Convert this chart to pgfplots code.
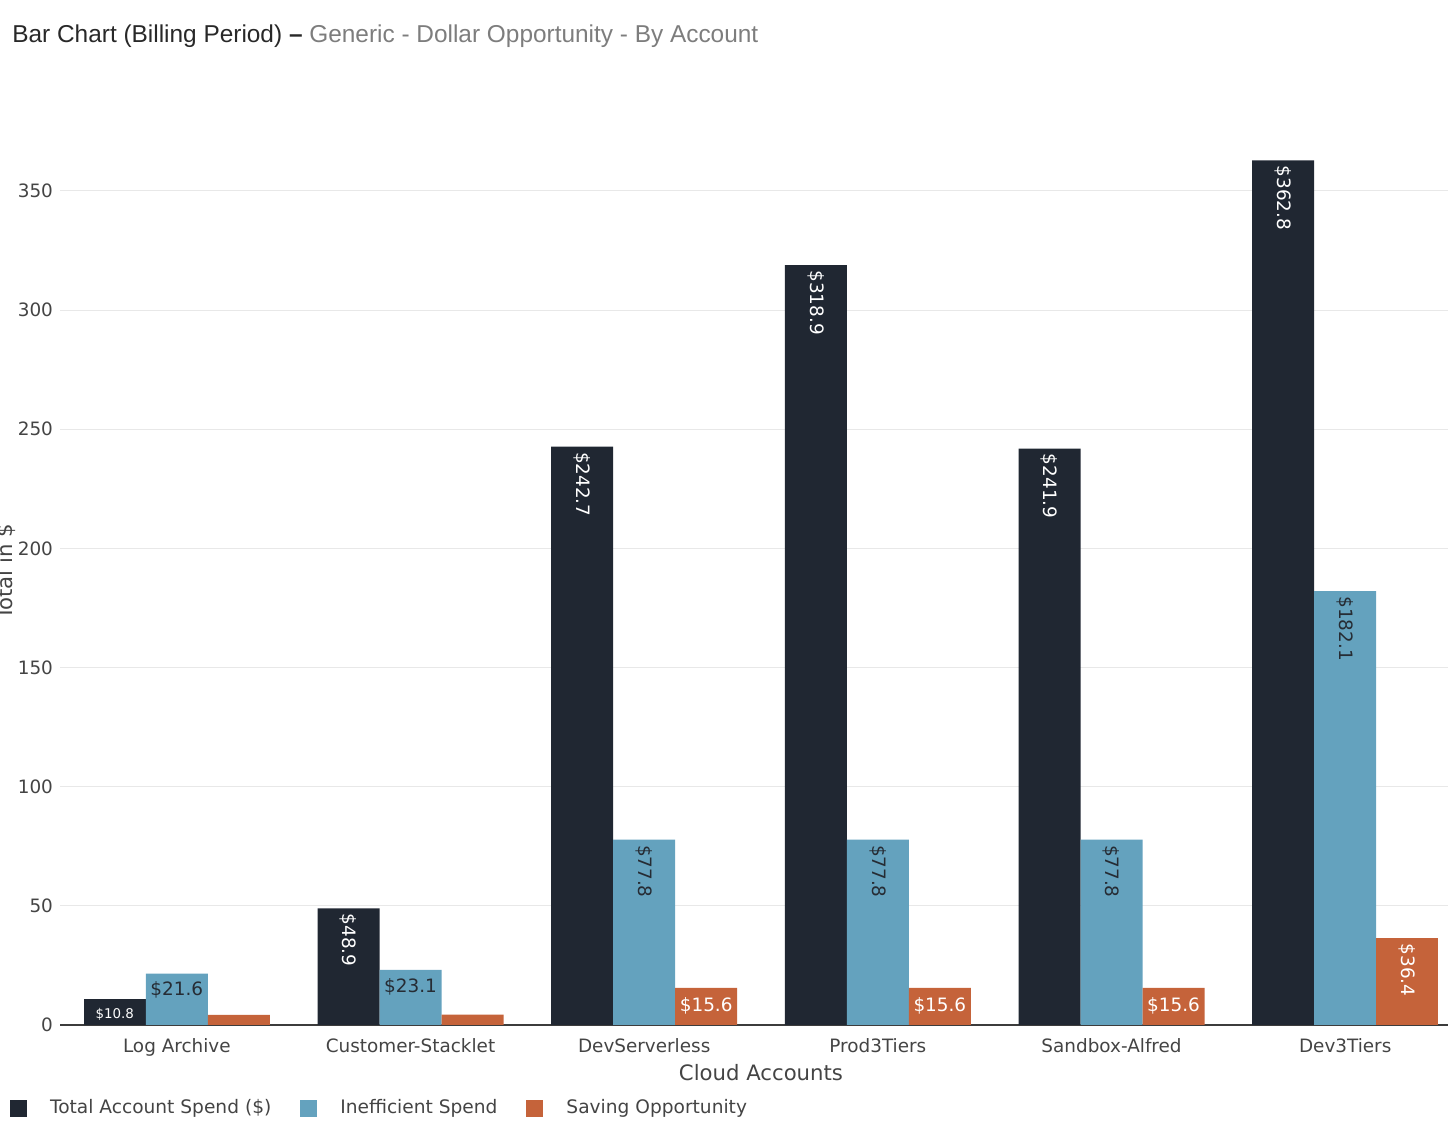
\documentclass[border=0pt]{standalone}
\usepackage{pgfplots}
\pgfplotsset{compat=1.18}
\usepackage{fontspec}
\setmainfont{DejaVu Sans}
\newfontfamily\titlefont{Liberation Sans}

\definecolor{bardark}{RGB}{32,39,50}
\definecolor{barblue}{RGB}{100,162,190}
\definecolor{barorange}{RGB}{197,99,58}
\definecolor{labelgray}{RGB}{68,68,68}
\definecolor{labeldark}{RGB}{38,44,52}
\definecolor{gridgray}{RGB}{232,232,232}
\definecolor{axisgray}{RGB}{60,60,60}
\definecolor{titledark}{RGB}{40,40,40}
\definecolor{titlegray}{RGB}{125,125,125}

\newcommand{\ticksize}{\fontsize{9.2}{11}\selectfont}

% bar value labels
\pgfplotsset{
  vallabel/.style={nodes near coords={\$\pgfmathprintnumber[fixed,precision=1,fixed zerofill]{\pgfplotspointmeta}}},
  lblrot/.style={vallabel, every node near coord/.append style={rotate=-90, anchor=west, inner sep=2.5pt, font=\ticksize, text=#1}},
  lblhor/.style 2 args={vallabel, every node near coord/.append style={anchor=north, inner sep=#2, font=\ticksize, text=#1}},
  lblsmall/.style={vallabel, every node near coord/.append style={anchor=north, inner sep=4.5pt, font=\fontsize{6.7}{8}\selectfont, text=#1}},
}

\begin{document}
\begin{tikzpicture}
\path[use as bounding box] (0,0) rectangle (725pt,564pt);
\clip (0,0) rectangle (725pt,564pt);
\begin{axis}[
  at={(30pt,51.5pt)}, anchor=south west,
  scale only axis, width=694pt, height=442.5pt,
  xmin=-0.5, xmax=5.44, ymin=0, ymax=371.4,
  axis x line*=bottom, axis y line*=left,
  y axis line style={draw=none},
  x axis line style={draw=axisgray, line width=0.8pt, -},
  xtick={0,...,5},
  xticklabels={Log Archive,Customer-Stacklet,DevServerless,Prod3Tiers,Sandbox-Alfred,Dev3Tiers},
  ytick={0,50,...,350},
  major tick length=0pt,
  tick label style={font=\ticksize, text=labelgray},
  xticklabel style={yshift=-3pt},
  ymajorgrids, major grid style={draw=gridgray, line width=0.5pt},
  ybar, bar width=31pt,
  /pgf/number format/assume math mode=true,
  xlabel={Cloud Accounts},
  xlabel style={at={(axis description cs:0.505,-0.0542)}, anchor=center, font=\fontsize{10.6}{12}\selectfont, text=labelgray},
  legend columns=3,
  legend style={at={(axis description cs:-0.036,-0.0938)}, anchor=west, draw=none, fill=none,
    inner sep=0pt, outer sep=0pt, font=\fontsize{9.3}{11}\selectfont, text=labelgray,
    nodes={inner sep=0pt},
    /tikz/every odd column/.append style={column sep=11.5pt},
    /tikz/every even column/.append style={column sep=14.5pt}},
  legend image code/.code={
    \fill[#1, draw=none] (0pt,-4.25pt) rectangle (8.5pt,4.25pt);
  },
]
% Total Account Spend
\addplot[fill=bardark, draw=none, bar shift=-31pt, lblsmall=white]
  coordinates {(0,10.8)};
\addlegendentry{Total Account Spend (\$)}
\addplot[fill=bardark, draw=none, bar shift=-31pt, lblrot=white, forget plot]
  coordinates {(1,48.9) (2,242.7) (3,318.9) (4,241.9) (5,362.8)};
% Inefficient Spend
\addplot[fill=barblue, draw=none, bar shift=0pt, lblhor={labeldark}{4pt}]
  coordinates {(0,21.6) (1,23.1)};
\addlegendentry{Inefficient Spend}
\addplot[fill=barblue, draw=none, bar shift=0pt, lblrot=labeldark, forget plot]
  coordinates {(2,77.8) (3,77.8) (4,77.8) (5,182.1)};
% Saving Opportunity
\addplot[fill=barorange, draw=none, bar shift=31pt]
  coordinates {(0,4.2) (1,4.3)};
\addlegendentry{Saving Opportunity}
\addplot[fill=barorange, draw=none, bar shift=31pt, lblhor={white}{4.5pt}, forget plot]
  coordinates {(2,15.6) (3,15.6) (4,15.6)};
\addplot[fill=barorange, draw=none, bar shift=31pt, lblrot=white, forget plot]
  coordinates {(5,36.4)};
\end{axis}
\node[anchor=base west, inner sep=0pt] at (6pt,542.5pt)
  {\titlefont\fontsize{12.2}{14}\selectfont\textcolor{titledark}{Bar Chart (Billing Period) \textbf{–}} \textcolor{titlegray}{Generic - Dollar Opportunity - By Account}};
\node[rotate=90, anchor=base, inner sep=0pt, text=labelgray, font=\fontsize{10.6}{12}\selectfont] at (6pt,278pt) {Total in \$};
\end{tikzpicture}
\end{document}
